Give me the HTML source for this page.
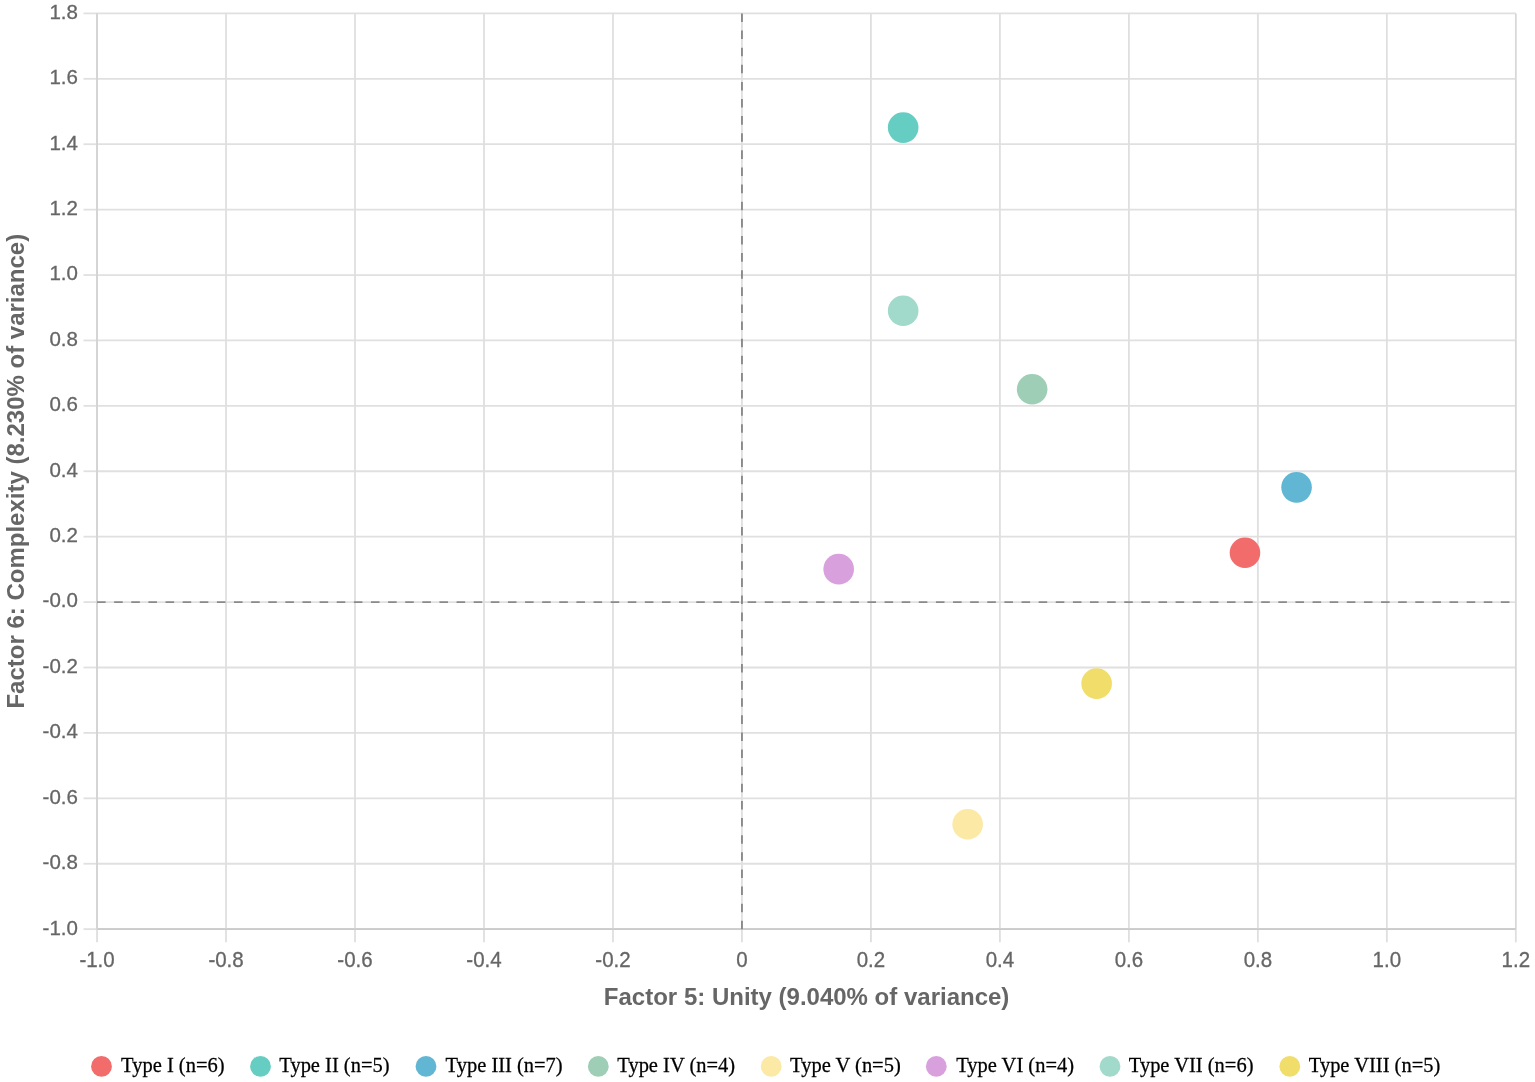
<!DOCTYPE html>
<html><head><meta charset="utf-8"><title>Factor scatter</title>
<style>
html,body{margin:0;padding:0;background:#fff;width:1535px;height:1082px;overflow:hidden}
svg{display:block;filter:blur(0.45px)}
.lab{font-family:"Liberation Sans",Arial,sans-serif;font-size:20.5px;fill:#666;stroke:#666;stroke-width:0.3px}
.tit{font-family:"Liberation Sans",Arial,sans-serif;font-size:24px;font-weight:bold;fill:#666}
.leg{font-family:"Liberation Serif","Times New Roman",serif;font-size:20.5px;fill:#000;stroke:#000;stroke-width:0.25px}
</style></head><body>
<svg width="1535" height="1082" viewBox="0 0 1535 1082">
<rect width="1535" height="1082" fill="#fff"/>
<line x1="83.5" x2="97.05" y1="13.40" y2="13.40" stroke="#e0e0e0" stroke-width="1.8"/>
<line x1="97.05" x2="1515.83" y1="13.40" y2="13.40" stroke="#e0e0e0" stroke-width="1.8"/>
<line x1="83.5" x2="97.05" y1="78.81" y2="78.81" stroke="#e0e0e0" stroke-width="1.8"/>
<line x1="97.05" x2="1515.83" y1="78.81" y2="78.81" stroke="#e0e0e0" stroke-width="1.8"/>
<line x1="83.5" x2="97.05" y1="144.22" y2="144.22" stroke="#e0e0e0" stroke-width="1.8"/>
<line x1="97.05" x2="1515.83" y1="144.22" y2="144.22" stroke="#e0e0e0" stroke-width="1.8"/>
<line x1="83.5" x2="97.05" y1="209.63" y2="209.63" stroke="#e0e0e0" stroke-width="1.8"/>
<line x1="97.05" x2="1515.83" y1="209.63" y2="209.63" stroke="#e0e0e0" stroke-width="1.8"/>
<line x1="83.5" x2="97.05" y1="275.04" y2="275.04" stroke="#e0e0e0" stroke-width="1.8"/>
<line x1="97.05" x2="1515.83" y1="275.04" y2="275.04" stroke="#e0e0e0" stroke-width="1.8"/>
<line x1="83.5" x2="97.05" y1="340.45" y2="340.45" stroke="#e0e0e0" stroke-width="1.8"/>
<line x1="97.05" x2="1515.83" y1="340.45" y2="340.45" stroke="#e0e0e0" stroke-width="1.8"/>
<line x1="83.5" x2="97.05" y1="405.86" y2="405.86" stroke="#e0e0e0" stroke-width="1.8"/>
<line x1="97.05" x2="1515.83" y1="405.86" y2="405.86" stroke="#e0e0e0" stroke-width="1.8"/>
<line x1="83.5" x2="97.05" y1="471.27" y2="471.27" stroke="#e0e0e0" stroke-width="1.8"/>
<line x1="97.05" x2="1515.83" y1="471.27" y2="471.27" stroke="#e0e0e0" stroke-width="1.8"/>
<line x1="83.5" x2="97.05" y1="536.68" y2="536.68" stroke="#e0e0e0" stroke-width="1.8"/>
<line x1="97.05" x2="1515.83" y1="536.68" y2="536.68" stroke="#e0e0e0" stroke-width="1.8"/>
<line x1="83.5" x2="97.05" y1="602.09" y2="602.09" stroke="#e0e0e0" stroke-width="1.8"/>
<line x1="97.05" x2="1515.83" y1="602.09" y2="602.09" stroke="#e0e0e0" stroke-width="1.8"/>
<line x1="83.5" x2="97.05" y1="667.50" y2="667.50" stroke="#e0e0e0" stroke-width="1.8"/>
<line x1="97.05" x2="1515.83" y1="667.50" y2="667.50" stroke="#e0e0e0" stroke-width="1.8"/>
<line x1="83.5" x2="97.05" y1="732.91" y2="732.91" stroke="#e0e0e0" stroke-width="1.8"/>
<line x1="97.05" x2="1515.83" y1="732.91" y2="732.91" stroke="#e0e0e0" stroke-width="1.8"/>
<line x1="83.5" x2="97.05" y1="798.32" y2="798.32" stroke="#e0e0e0" stroke-width="1.8"/>
<line x1="97.05" x2="1515.83" y1="798.32" y2="798.32" stroke="#e0e0e0" stroke-width="1.8"/>
<line x1="83.5" x2="97.05" y1="863.73" y2="863.73" stroke="#e0e0e0" stroke-width="1.8"/>
<line x1="97.05" x2="1515.83" y1="863.73" y2="863.73" stroke="#e0e0e0" stroke-width="1.8"/>
<line x1="83.5" x2="97.05" y1="929.14" y2="929.14" stroke="#e0e0e0" stroke-width="1.8"/>
<line x1="97.05" x2="1515.83" y1="929.14" y2="929.14" stroke="#cbcbcb" stroke-width="1.8"/>
<line x1="97.05" x2="97.05" y1="13.40" y2="929.14" stroke="#d4d4d4" stroke-width="1.8"/>
<line x1="97.05" x2="97.05" y1="929.14" y2="942.3" stroke="#dfdfdf" stroke-width="1.8"/>
<line x1="226.03" x2="226.03" y1="13.40" y2="929.14" stroke="#dfdfdf" stroke-width="1.8"/>
<line x1="226.03" x2="226.03" y1="929.14" y2="942.3" stroke="#dfdfdf" stroke-width="1.8"/>
<line x1="355.01" x2="355.01" y1="13.40" y2="929.14" stroke="#dfdfdf" stroke-width="1.8"/>
<line x1="355.01" x2="355.01" y1="929.14" y2="942.3" stroke="#dfdfdf" stroke-width="1.8"/>
<line x1="483.99" x2="483.99" y1="13.40" y2="929.14" stroke="#dfdfdf" stroke-width="1.8"/>
<line x1="483.99" x2="483.99" y1="929.14" y2="942.3" stroke="#dfdfdf" stroke-width="1.8"/>
<line x1="612.97" x2="612.97" y1="13.40" y2="929.14" stroke="#dfdfdf" stroke-width="1.8"/>
<line x1="612.97" x2="612.97" y1="929.14" y2="942.3" stroke="#dfdfdf" stroke-width="1.8"/>
<line x1="741.95" x2="741.95" y1="13.40" y2="929.14" stroke="#dfdfdf" stroke-width="1.8"/>
<line x1="741.95" x2="741.95" y1="929.14" y2="942.3" stroke="#dfdfdf" stroke-width="1.8"/>
<line x1="870.93" x2="870.93" y1="13.40" y2="929.14" stroke="#dfdfdf" stroke-width="1.8"/>
<line x1="870.93" x2="870.93" y1="929.14" y2="942.3" stroke="#dfdfdf" stroke-width="1.8"/>
<line x1="999.91" x2="999.91" y1="13.40" y2="929.14" stroke="#dfdfdf" stroke-width="1.8"/>
<line x1="999.91" x2="999.91" y1="929.14" y2="942.3" stroke="#dfdfdf" stroke-width="1.8"/>
<line x1="1128.89" x2="1128.89" y1="13.40" y2="929.14" stroke="#dfdfdf" stroke-width="1.8"/>
<line x1="1128.89" x2="1128.89" y1="929.14" y2="942.3" stroke="#dfdfdf" stroke-width="1.8"/>
<line x1="1257.87" x2="1257.87" y1="13.40" y2="929.14" stroke="#dfdfdf" stroke-width="1.8"/>
<line x1="1257.87" x2="1257.87" y1="929.14" y2="942.3" stroke="#dfdfdf" stroke-width="1.8"/>
<line x1="1386.85" x2="1386.85" y1="13.40" y2="929.14" stroke="#dfdfdf" stroke-width="1.8"/>
<line x1="1386.85" x2="1386.85" y1="929.14" y2="942.3" stroke="#dfdfdf" stroke-width="1.8"/>
<line x1="1515.83" x2="1515.83" y1="13.40" y2="929.14" stroke="#d8d8d8" stroke-width="1.8"/>
<line x1="1515.83" x2="1515.83" y1="929.14" y2="942.3" stroke="#dfdfdf" stroke-width="1.8"/>
<line x1="97.05" x2="1515.83" y1="929.14" y2="929.14" stroke="#cbcbcb" stroke-width="1.8"/>
<line x1="97.05" x2="97.05" y1="13.40" y2="929.14" stroke="#d4d4d4" stroke-width="1.8"/>
<line x1="97.05" x2="1515.83" y1="602.09" y2="602.09" stroke="#8a8a8a" stroke-width="1.9" stroke-dasharray="8.56 8.56"/>
<line x1="741.95" x2="741.95" y1="13.40" y2="929.14" stroke="#8a8a8a" stroke-width="1.9" stroke-dasharray="8.56 8.56"/>
<text transform="translate(77.9 18.80) scale(1 1.0)" text-anchor="end" class="lab">1.8</text>
<text transform="translate(77.9 84.21) scale(1 1.0)" text-anchor="end" class="lab">1.6</text>
<text transform="translate(77.9 149.62) scale(1 1.0)" text-anchor="end" class="lab">1.4</text>
<text transform="translate(77.9 215.03) scale(1 1.0)" text-anchor="end" class="lab">1.2</text>
<text transform="translate(77.9 280.44) scale(1 1.0)" text-anchor="end" class="lab">1.0</text>
<text transform="translate(77.9 345.85) scale(1 1.0)" text-anchor="end" class="lab">0.8</text>
<text transform="translate(77.9 411.26) scale(1 1.0)" text-anchor="end" class="lab">0.6</text>
<text transform="translate(77.9 476.67) scale(1 1.0)" text-anchor="end" class="lab">0.4</text>
<text transform="translate(77.9 542.08) scale(1 1.0)" text-anchor="end" class="lab">0.2</text>
<text transform="translate(77.9 607.49) scale(1 1.0)" text-anchor="end" class="lab">-0.0</text>
<text transform="translate(77.9 672.90) scale(1 1.0)" text-anchor="end" class="lab">-0.2</text>
<text transform="translate(77.9 738.31) scale(1 1.0)" text-anchor="end" class="lab">-0.4</text>
<text transform="translate(77.9 803.72) scale(1 1.0)" text-anchor="end" class="lab">-0.6</text>
<text transform="translate(77.9 869.13) scale(1 1.0)" text-anchor="end" class="lab">-0.8</text>
<text transform="translate(77.9 934.54) scale(1 1.0)" text-anchor="end" class="lab">-1.0</text>
<text transform="translate(97.05 966.5) scale(1 1.05)" text-anchor="middle" class="lab">-1.0</text>
<text transform="translate(226.03 966.5) scale(1 1.05)" text-anchor="middle" class="lab">-0.8</text>
<text transform="translate(355.01 966.5) scale(1 1.05)" text-anchor="middle" class="lab">-0.6</text>
<text transform="translate(483.99 966.5) scale(1 1.05)" text-anchor="middle" class="lab">-0.4</text>
<text transform="translate(612.97 966.5) scale(1 1.05)" text-anchor="middle" class="lab">-0.2</text>
<text transform="translate(741.95 966.5) scale(1 1.05)" text-anchor="middle" class="lab">0</text>
<text transform="translate(870.93 966.5) scale(1 1.05)" text-anchor="middle" class="lab">0.2</text>
<text transform="translate(999.91 966.5) scale(1 1.05)" text-anchor="middle" class="lab">0.4</text>
<text transform="translate(1128.89 966.5) scale(1 1.05)" text-anchor="middle" class="lab">0.6</text>
<text transform="translate(1257.87 966.5) scale(1 1.05)" text-anchor="middle" class="lab">0.8</text>
<text transform="translate(1386.85 966.5) scale(1 1.05)" text-anchor="middle" class="lab">1.0</text>
<text transform="translate(1515.83 966.5) scale(1 1.05)" text-anchor="middle" class="lab">1.2</text>
<text x="806.6" y="1005.4" text-anchor="middle" class="tit">Factor 5: Unity (9.040% of variance)</text>
<text transform="translate(23.7 471.2) rotate(-90)" x="0" y="0" text-anchor="middle" class="tit">Factor 6: Complexity (8.230% of variance)</text>
<circle cx="1244.97" cy="552.78" r="15.3" fill="#F26C6C"/>
<circle cx="903.17" cy="127.62" r="15.3" fill="#66CDC3"/>
<circle cx="1296.56" cy="487.37" r="15.3" fill="#60B6D3"/>
<circle cx="1032.15" cy="389.26" r="15.3" fill="#9ECEB6"/>
<circle cx="967.66" cy="824.23" r="15.3" fill="#FBE9A5"/>
<circle cx="838.68" cy="569.13" r="15.3" fill="#D8A0DC"/>
<circle cx="903.17" cy="310.77" r="15.3" fill="#A1D9CA"/>
<circle cx="1096.64" cy="683.60" r="15.3" fill="#F0DD6A"/>
<circle cx="101.5" cy="1066.4" r="10.4" fill="#F26C6C"/>
<text transform="translate(121.1 1072.3) scale(1 1.06)" class="leg">Type I (n=6)</text>
<circle cx="260.5" cy="1066.4" r="10.4" fill="#66CDC3"/>
<text transform="translate(279.3 1072.3) scale(1 1.06)" class="leg">Type II (n=5)</text>
<circle cx="426.0" cy="1066.4" r="10.4" fill="#60B6D3"/>
<text transform="translate(445.6 1072.3) scale(1 1.06)" class="leg">Type III (n=7)</text>
<circle cx="598.3" cy="1066.4" r="10.4" fill="#9ECEB6"/>
<text transform="translate(617.3 1072.3) scale(1 1.06)" class="leg">Type IV (n=4)</text>
<circle cx="771.2" cy="1066.4" r="10.4" fill="#FBE9A5"/>
<text transform="translate(790.1 1072.3) scale(1 1.06)" class="leg">Type V (n=5)</text>
<circle cx="936.3" cy="1066.4" r="10.4" fill="#D8A0DC"/>
<text transform="translate(956.2 1072.3) scale(1 1.06)" class="leg">Type VI (n=4)</text>
<circle cx="1110.0" cy="1066.4" r="10.4" fill="#A1D9CA"/>
<text transform="translate(1128.8 1072.3) scale(1 1.06)" class="leg">Type VII (n=6)</text>
<circle cx="1289.8" cy="1066.4" r="10.4" fill="#F0DD6A"/>
<text transform="translate(1308.8 1072.3) scale(1 1.06)" class="leg">Type VIII (n=5)</text>
</svg>
</body></html>
